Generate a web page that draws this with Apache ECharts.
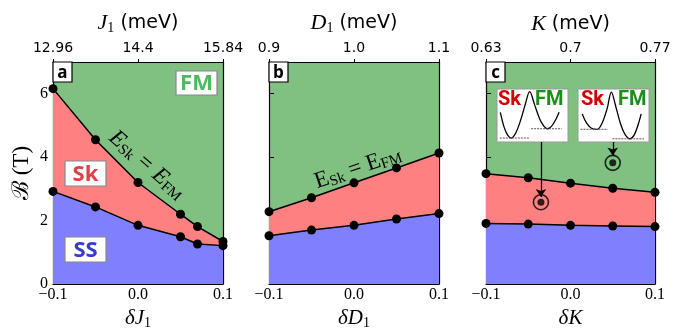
<!DOCTYPE html>
<html><head><meta charset="utf-8">
<script src="https://cdn.jsdelivr.net/npm/echarts@6/dist/echarts.min.js"></script>
<style>html,body{margin:0;padding:0;background:#fff}#c{width:675px;height:331px}</style>
</head><body><div id="c"></div>
<script>
// ---------- data ----------
const deltaJ1 = [-0.1, -0.05, 0, 0.05, 0.07, 0.1];
const J1_SkFM = [6.16, 4.55, 3.20, 2.20, 1.81, 1.34];
const J1_SSSk = [2.92, 2.43, 1.85, 1.49, 1.26, 1.21];

const deltaD1 = [-0.1, -0.05, 0, 0.05, 0.1];
const D1_SkFM = [2.28, 2.72, 3.19, 3.66, 4.13];
const D1_SSSk = [1.52, 1.70, 1.85, 2.05, 2.22];

const deltaK = [-0.1, -0.05, 0, 0.05, 0.1];
const K_SkFM = [3.48, 3.35, 3.18, 3.02, 2.89];
const K_SSSk = [1.91, 1.89, 1.85, 1.83, 1.81];

const K_markedX = [-0.035, 0.05];
const K_markedB = [2.58, 3.82];
const K_arrowTopB = [4.48, 4.48];
const K_arrowEndB = [2.74, 4.05];

const bottomTickLabels = ['\u22120.1', '0.0', '0.1'];
const topLabelsJ1 = ['12.96', '14.4', '15.84'];
const topLabelsD1 = ['0.9', '1.0', '1.1'];
const topLabelsK = ['0.63', '0.7', '0.77'];
const yTickLabels = ['0', '2', '4', '6'];

// schematic energy curves in insets (x, E)
const inset1Curve = [[0.47,5.6],[1.0,2.8],[1.5,1.3],[2.0,0.75],[2.6,1.6],[3.3,4.0],[4.0,7.2],[4.6,9.5],[5.3,7.0],[6.0,4.4],[6.6,3.0],[7.1,2.5],[7.7,3.0],[8.3,4.3],[8.75,5.6]];
const inset1Levels = [[[0.4,0.75],[4.6,0.75]], [[4.8,2.5],[9.1,2.5]]];
const inset2Curve = [[0.6,5.3],[1.2,3.6],[1.9,2.6],[2.7,2.4],[3.4,3.6],[4.1,6.3],[4.7,9.4],[5.3,6.8],[6.0,3.4],[6.6,1.5],[7.3,0.6],[7.9,1.3],[8.5,3.4],[8.9,5.3]];
const inset2Levels = [[[0.35,2.4],[4.2,2.4]], [[4.85,0.6],[9.3,0.6]]];

// ---------- helpers ----------
const zip = (a, b) => a.map((v, i) => [v, b[i]]);
const SERIF = 'Liberation Serif';
const SANS = 'DejaVu Sans';
const GREEN = '#80c080', RED = '#ff8080', BLUE = '#8080ff';
const grids = [
  {left: 53, top: 62, width: 170, height: 222},
  {left: 269, top: 62, width: 170, height: 222},
  {left: 486, top: 62, width: 169, height: 222}
];
const idx = v => Math.round((v + 0.1) / 0.1);

function bottomAxis(g, sym, sub) {
  return {
    gridIndex: g, type: 'value', position: 'bottom', min: -0.1, max: 0.1, interval: 0.1,
    axisLine: {show: true, onZero: false, lineStyle: {color: '#000', width: 1.2}},
    axisTick: {show: true, inside: true, length: 5, lineStyle: {color: '#000', width: 1}},
    minorTick: {show: true, splitNumber: 4, length: 3, lineStyle: {color: '#000', width: 1}},
    splitLine: {show: false},
    axisLabel: {color: '#000', fontFamily: SERIF, fontSize: 16, margin: 3,
      formatter: v => bottomTickLabels[idx(v)]},
    name: sub ? '{i|' + sym + '}{s|' + sub + '}' : '{i|' + sym + '}',
    nameLocation: 'middle', nameGap: 22,
    nameTextStyle: {rich: {
      i: {fontFamily: SERIF, fontStyle: 'italic', fontSize: 21, color: '#000'},
      s: {fontFamily: SERIF, fontSize: 14, color: '#000', padding: [9, 0, 0, 0]}
    }}
  };
}
function topAxis(g, labels, sym, sub) {
  return {
    gridIndex: g, type: 'value', position: 'top', min: -0.1, max: 0.1, interval: 0.1,
    axisLine: {show: true, onZero: false, lineStyle: {color: '#000', width: 1.2}},
    axisTick: {show: true, inside: false, length: 3, lineStyle: {color: '#000'}},
    splitLine: {show: false},
    axisLabel: {color: '#000', fontFamily: SANS, fontSize: 14, margin: 7,
      formatter: v => labels[idx(v)]},
    name: '{i|' + sym + '}' + (sub ? '{s|' + sub + '}' : '') + '{t| (meV)}',
    nameLocation: 'middle', nameGap: 27,
    nameTextStyle: {rich: {
      i: {fontFamily: SERIF, fontStyle: 'italic', fontSize: 22, color: '#000'},
      s: {fontFamily: SERIF, fontSize: 14, color: '#000', padding: [9, 0, 0, 0]},
      t: {fontFamily: SANS, fontSize: 19, color: '#000'}
    }}
  };
}
function leftAxis(g, showLabels) {
  const a = {
    gridIndex: g, type: 'value', position: 'left', min: 0, max: 7, interval: 2,
    axisLine: {show: true, onZero: false, lineStyle: {color: '#000', width: 1.2}},
    axisTick: {show: true, inside: true, length: 5, lineStyle: {color: '#000'}},
    splitLine: {show: false},
    axisLabel: {show: showLabels, showMaxLabel: false, color: '#000', fontFamily: SERIF, fontSize: 16, margin: 5,
      formatter: v => (v % 2 === 0 ? yTickLabels[v / 2] : '')}
  };
  if (showLabels) {
    a.name = '\u212C (T)';
    a.nameLocation = 'middle';
    a.nameGap = 20;
    a.nameTextStyle = {fontFamily: SERIF, fontSize: 23, color: '#000'};
  }
  return a;
}
function rightAxis(g) {
  return {
    gridIndex: g, type: 'value', position: 'right', min: 0, max: 7,
    axisLine: {show: true, onZero: false, lineStyle: {color: '#000', width: 1.2}},
    axisTick: {show: false}, axisLabel: {show: false}, splitLine: {show: false}
  };
}
function boundary(g, xs, ys, fill, z) {
  return {
    type: 'line', xAxisIndex: 2 * g, yAxisIndex: 2 * g, data: zip(xs, ys), z: z,
    symbol: 'circle', symbolSize: 9, itemStyle: {color: '#000'},
    lineStyle: {color: '#000', width: 1.5},
    areaStyle: {color: fill, opacity: 1, origin: 'start'},
    animation: false
  };
}
function insetCurve(ax, pts) {
  return {type: 'line', xAxisIndex: ax, yAxisIndex: ax, data: pts, symbol: 'none', smooth: 0.35,
    lineStyle: {color: '#000', width: 1.3}, z: 5, animation: false};
}
function insetLevel(ax, seg) {
  return {type: 'line', xAxisIndex: ax, yAxisIndex: ax, data: seg, symbol: 'none',
    lineStyle: {color: '#555', width: 1, type: [2, 1]}, z: 5, animation: false};
}
const hiddenAxis = g => ({gridIndex: g, type: 'value', min: 0, max: 10, show: false});
const gridBase = {containLabel: false, outerBoundsMode: 'none'};

const option = {
  animation: false,
  grid: [
    ...grids.map(r => Object.assign({show: true, backgroundColor: GREEN, borderWidth: 0}, gridBase, r)),
    Object.assign({left: 497, top: 89, width: 71, height: 53, show: true, backgroundColor: '#fff', borderColor: '#999', borderWidth: 1, z: 4}, gridBase),
    Object.assign({left: 578, top: 89, width: 71, height: 53, show: true, backgroundColor: '#fff', borderColor: '#999', borderWidth: 1, z: 4}, gridBase)
  ],
  xAxis: [
    bottomAxis(0, '\u03B4J', '1'), topAxis(0, topLabelsJ1, 'J', '1'),
    bottomAxis(1, '\u03B4D', '1'), topAxis(1, topLabelsD1, 'D', '1'),
    bottomAxis(2, '\u03B4K', ''), topAxis(2, topLabelsK, 'K', ''),
    hiddenAxis(3), hiddenAxis(4)
  ],
  yAxis: [
    leftAxis(0, true), rightAxis(0),
    leftAxis(1, false), rightAxis(1),
    leftAxis(2, false), rightAxis(2),
    hiddenAxis(3), hiddenAxis(4)
  ],
  series: [
    boundary(0, deltaJ1, J1_SkFM, RED, 2),
    boundary(0, deltaJ1, J1_SSSk, BLUE, 3),
    boundary(1, deltaD1, D1_SkFM, RED, 2),
    boundary(1, deltaD1, D1_SSSk, BLUE, 3),
    boundary(2, deltaK, K_SkFM, RED, 2),
    boundary(2, deltaK, K_SSSk, BLUE, 3),
    {type: 'lines', coordinateSystem: 'cartesian2d', xAxisIndex: 4, yAxisIndex: 4, z: 6,
      symbol: ['none', 'arrow'], symbolSize: 8,
      lineStyle: {color: '#000', width: 1.3, opacity: 1},
      data: K_markedX.map((x, i) => ({coords: [[x, K_arrowTopB[i]], [x, K_arrowEndB[i]]]})),
      animation: false},
    {type: 'scatter', xAxisIndex: 4, yAxisIndex: 4, z: 6, symbol: 'circle', symbolSize: 15,
      itemStyle: {color: 'rgba(0,0,0,0)', borderColor: '#000', borderWidth: 1.6},
      data: zip(K_markedX, K_markedB), animation: false},
    {type: 'scatter', xAxisIndex: 4, yAxisIndex: 4, z: 6, symbol: 'circle', symbolSize: 7,
      itemStyle: {color: '#000'}, data: zip(K_markedX, K_markedB), animation: false},
    insetCurve(6, inset1Curve), insetLevel(6, inset1Levels[0]), insetLevel(6, inset1Levels[1]),
    insetCurve(7, inset2Curve), insetLevel(7, inset2Levels[0]), insetLevel(7, inset2Levels[1])
  ]
};

function labelBox(x, y, w, h, text, color, size, stroke) {
  return {type: 'group', x: x, y: y, z: 50, children: [
    {type: 'rect', z: 50, shape: {x: 0, y: 0, width: w, height: h}, style: {fill: '#fff', stroke: stroke, lineWidth: 1.2}},
    {type: 'text', z: 51, x: w / 2, y: h / 2 + 1, style: {text: text, fill: color, font: 'bold ' + size + 'px "Open Sans"', align: 'center', verticalAlign: 'middle'}}
  ]};
}
function insetText(x, y, text, color) {
  return {type: 'text', x: x, y: y, z: 60, style: {text: text, fill: color, font: 'bold 20px Roboto', align: 'left', verticalAlign: 'top'}};
}
const eqRich = italic => ({
  e: {fontFamily: SERIF, fontStyle: italic ? 'italic' : 'normal', fontSize: 23, fill: '#000', color: '#000'},
  s: {fontFamily: SERIF, fontSize: 15, fill: '#000', color: '#000', padding: [9, 0, 0, 0]}
});
option.graphic = [
  labelBox(53, 62, 19, 20, 'a', '#000', 17, '#000'),
  labelBox(269, 62, 19, 20, 'b', '#000', 17, '#000'),
  labelBox(486, 62, 19, 20, 'c', '#000', 17, '#000'),
  labelBox(176, 71, 41, 24, 'FM', '#4cbb5a', 22, '#888'),
  labelBox(65, 161, 41, 25, 'Sk', '#e0404a', 22, '#888'),
  labelBox(65, 237, 41, 25, 'SS', '#3a3acc', 22, '#888'),
  insetText(498, 90, 'Sk', '#d40000'),
  insetText(535, 90, 'FM', '#1a8f1a'),
  insetText(581, 90, 'Sk', '#d40000'),
  insetText(618, 90, 'FM', '#1a8f1a'),
  {type: 'text', x: 147, y: 165, rotation: -0.716, z: 40,
    style: {text: '{e|E}{s|Sk}{e| = }{e|E}{s|FM}', rich: eqRich(true), align: 'center', verticalAlign: 'middle'}},
  {type: 'text', x: 358, y: 168, rotation: 0.33, z: 40,
    style: {text: '{e|E}{s|Sk}{e| = }{e|E}{s|FM}', rich: eqRich(false), align: 'center', verticalAlign: 'middle'}}
];

const chart = echarts.init(document.getElementById('c'), null, {renderer: 'canvas'});
chart.setOption(option);
</script>
</body></html>
